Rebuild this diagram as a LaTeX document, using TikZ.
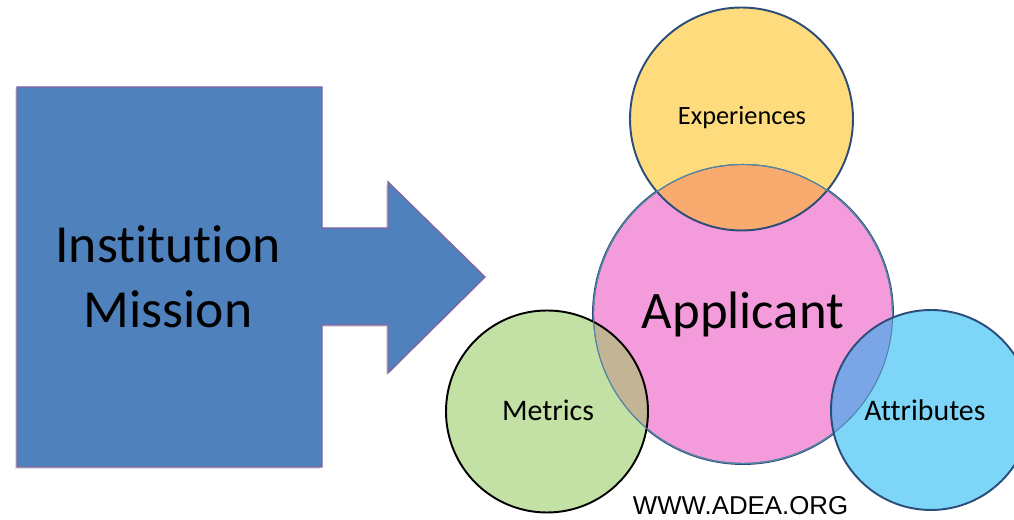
\documentclass[tikz,border=0pt]{standalone}
\usepackage{fontspec}
\setmainfont{Carlito}[Ligatures=NoCommon]
\newfontfamily\adeafont{Liberation Sans}
\usetikzlibrary{shadows}
\definecolor{Azul}{RGB}{79, 129, 189}
\definecolor{Morado}{RGB}{128, 100, 162}
\definecolor{Borde}{RGB}{44, 77, 122}
\definecolor{Amarillo}{RGB}{254, 220, 126}
\definecolor{Rosa}{RGB}{244, 155, 220}
\definecolor{Verde}{RGB}{196, 225, 165}
\definecolor{Celeste}{RGB}{125, 214, 247}
\definecolor{Naranja}{RGB}{249, 170, 110}
\definecolor{Cafe}{RGB}{196, 180, 150}
\definecolor{Lila}{RGB}{122, 166, 232}

\begin{document}
\begin{tikzpicture}
	\useasboundingbox (0,0) rectangle (20.28,10.4);

	%Flecha con la mision
	\filldraw[fill=Azul, draw=Morado, line width=0.8pt,
		drop shadow={opacity=0.25, shadow xshift=-0.04, shadow yshift=-0.04}]
		(0.34,8.66) -- (6.44,8.66) -- (6.44,5.84) -- (7.76,5.84) -- (7.76,6.76)
		-- (9.7,4.86) -- (7.76,2.94) -- (7.76,3.9) -- (6.44,3.9) -- (6.44,1.06)
		-- (0.34,1.06) -- cycle;
	\node[align=center, font=\fontsize{30.5}{37}\selectfont] (mision) at (3.36,4.86) {Institution\\Mission};

	%Circulo central
	\filldraw[fill=Rosa, draw=Borde, line width=1.1pt] (14.86,4.12) circle (3);

	%Circulo superior y su interseccion
	\fill[color=Amarillo] (14.83,8.02) circle (2.23);
	\begin{scope}
		\clip (14.86,4.12) circle (3);
		\fill[color=Naranja] (14.83,8.02) circle (2.23);
		\draw[color=Borde!60!Amarillo, line width=1.1pt] (14.86,4.12) circle (3);
	\end{scope}
	\draw[color=Borde, line width=1.1pt] (14.83,8.02) circle (2.23);

	%Circulo izquierdo y su interseccion
	\fill[color=Verde] (10.94,2.17) circle (2.02);
	\begin{scope}
		\clip (14.86,4.12) circle (3);
		\fill[color=Cafe] (10.94,2.17) circle (2.02);
		\draw[color=Borde!60!Verde, line width=1.1pt] (14.86,4.12) circle (3);
	\end{scope}
	\draw[color=black, line width=1.1pt] (10.94,2.17) circle (2.02);

	%Circulo derecho y su interseccion
	\fill[color=Celeste] (18.62,2.2) circle (2.0);
	\begin{scope}
		\clip (14.86,4.12) circle (3);
		\fill[color=Lila] (18.62,2.2) circle (2.0);
		\draw[color=Borde!60!Celeste, line width=1.1pt] (14.86,4.12) circle (3);
	\end{scope}
	\draw[color=Borde, line width=1.1pt] (18.62,2.2) circle (2.0);

	%Textos
	\node[font=\fontsize{30}{36}\selectfont] (aplicante) at (14.86,4.12) {Applicant};
	\node[font=\fontsize{15}{18}\selectfont] (experiencias) at (14.84,8.04) {Experiences};
	\node[font=\fontsize{17}{20}\selectfont] (metricas) at (10.96,2.2) {Metrics};
	\node[font=\fontsize{17}{20}\selectfont] (atributos) at (18.5,2.2) {Attributes};
	\node[font=\adeafont\fontsize{14.7}{17}\selectfont, anchor=base] (sitio) at (14.81,0.1) {WWW.ADEA.ORG};
\end{tikzpicture}
\end{document}
